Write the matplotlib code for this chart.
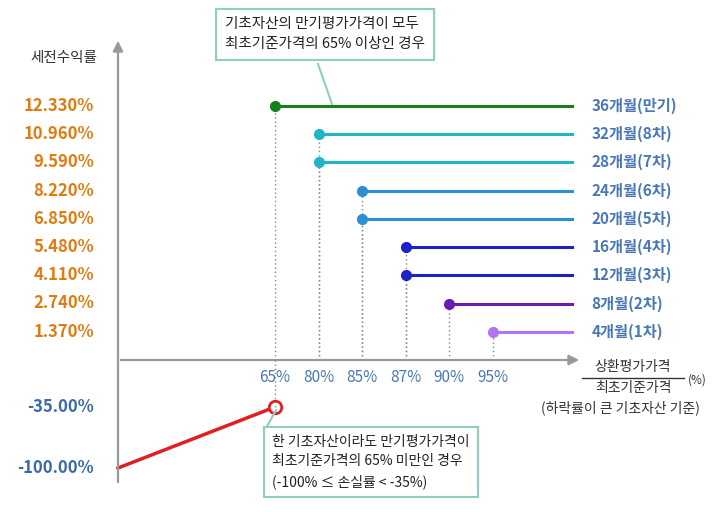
import matplotlib
matplotlib.use("Agg")
import matplotlib.pyplot as plt
import numpy as np

plt.rcParams['font.family'] = ['Noto Sans CJK KR', 'DejaVu Sans']

barriers = ["65%", "80%", "85%", "87%", "90%", "95%"]
returns = [12.33, 10.96, 9.59, 8.22, 6.85, 5.48, 4.11, 2.74, 1.37]
barrier_idx = [0, 1, 1, 2, 2, 3, 3, 4, 5]
periods = ["36개월(만기)", "32개월(8차)", "28개월(7차)", "24개월(6차)", "20개월(5차)",
           "16개월(4차)", "12개월(3차)", "8개월(2차)", "4개월(1차)"]
colors = ["#17801c", "#22b5c9", "#22b5c9", "#2a8fd4", "#2a8fd4",
          "#1b22c8", "#1b22c8", "#6a1cb0", "#b574f2"]
loss_levels = [-100.0, -35.0]

def fwd(v):
    v = np.asarray(v, float)
    return np.where(v >= 0, v * 28.25 / 1.37,
           np.where(v >= -35, v * 47 / 35, -47 + (v + 35) * 61 / 65))
def inv(p):
    p = np.asarray(p, float)
    return np.where(p >= 0, p * 1.37 / 28.25,
           np.where(p >= -47, p * 35 / 47, -35 + (p + 47) * 65 / 61))

fig = plt.figure(figsize=(7.2, 5.12), dpi=100)
ax = fig.add_axes([0, 0, 1, 1])
ax.set_yscale('function', functions=(fwd, inv))
S = 43.6
ax.set_xlim(-275 / S, (720 - 275) / S)
ax.set_ylim(float(inv(-152)), float(inv(360)))
ax.axis('off')

x0 = (118 - 275) / S
xend = (572 - 275) / S
# axes
ax.annotate("", xy=(x0, float(inv(360 - 38))), xytext=(x0, float(inv(360 - 485))),
            arrowprops=dict(arrowstyle="-|>,head_width=0.3,head_length=0.6", color="#999999", lw=1.6))
ax.annotate("", xy=((582 - 275) / S, 0), xytext=(x0, 0),
            arrowprops=dict(arrowstyle="-|>,head_width=0.3,head_length=0.6", color="#999999", lw=1.6))

for r, bi, lab, c in zip(returns, barrier_idx, periods, colors):
    ax.plot([bi, bi], [0, r], color="#888888", lw=1, ls=(0, (1, 2)))
    ax.plot([bi, xend], [r, r], color=c, lw=2.2)
    ax.plot(bi, r, 'o', color=c, ms=7)
    ax.text(xend + 0.45, r, lab, color="#4a78b5", fontsize=11, fontweight='bold', va='center')
    ax.text(x0 - 0.55, r, f"{r:.3f}%", color="#e07b12", fontsize=12, fontweight='bold',
            ha='right', va='center')

for i, b in enumerate(barriers):
    ax.text(i, float(inv(-17)), b, color="#4a78b5", fontsize=11, ha='center', va='center')

# loss line
ax.plot([x0, 0], [-100, -35], color="#e02020", lw=2.5)
ax.plot(0, -35, 'o', ms=9, mfc='white', mec="#e02020", mew=2)
ax.plot([0, 0], [-35, 0], color="#888888", lw=1, ls=(0, (1, 2)))
for v in loss_levels:
    ax.text(x0 - 0.55, v, f"{v:.2f}%", color="#3a6aa8", fontsize=12, fontweight='bold',
            ha='right', va='center')

def px(x, y):
    return x / 720, 1 - y / 512

fig.text(*px(30, 58), "세전수익률", fontsize=10.5, color="#333333", va='center')
fig.text(*px(633, 367), "상환평가가격", fontsize=10, color="#333333", ha='center', va='center')
fig.add_artist(plt.Line2D([582 / 720, 684 / 720], [1 - 378 / 512] * 2, color="#333333", lw=1))
fig.text(*px(633, 388), "최초기준가격", fontsize=10, color="#333333", ha='center', va='center')
fig.text(*px(688, 380), "(%)", fontsize=8.5, color="#333333", va='center')
fig.text(*px(620, 408), "(하락률이 큰 기초자산 기준)", fontsize=10, color="#333333", ha='center', va='center')

box = dict(boxstyle="square,pad=0.6", fc="white", ec="#8fcfbf", lw=1.5)
fig.text(*px(225, 34), "기초자산의 만기평가가격이 모두\n최초기준가격의 65% 이상인 경우",
         fontsize=10.5, color="#222222", va='center', linespacing=1.5, bbox=box)
fig.add_artist(plt.Line2D([318 / 720, 332 / 720], [1 - 64 / 512, 1 - 104 / 512], color="#8fcfbf", lw=1.5))
fig.text(*px(272, 462), "한 기초자산이라도 만기평가가격이\n최초기준가격의 65% 미만인 경우\n(-100% ≤ 손실률 < -35%)",
         fontsize=10, color="#222222", va='center', linespacing=1.5, bbox=box)
fig.add_artist(plt.Line2D([266 / 720, 276 / 720], [1 - 428 / 512, 1 - 410 / 512], color="#8fcfbf", lw=1.5))

fig.savefig("out.png", dpi=100)
